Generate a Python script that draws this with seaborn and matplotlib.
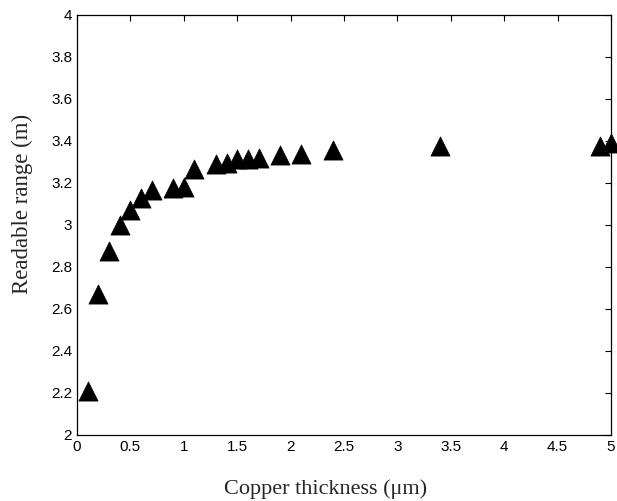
import matplotlib
matplotlib.use("Agg")
import matplotlib.pyplot as plt
import seaborn as sns
import pandas as pd

thickness = [0.1, 0.2, 0.3, 0.4, 0.5, 0.6, 0.7, 0.9, 1.0, 1.1, 1.3, 1.4,
             1.5, 1.6, 1.7, 1.9, 2.1, 2.4, 3.4, 4.9, 5.0]
readable_range = [2.21, 2.67, 2.875, 3.0, 3.07, 3.13, 3.165, 3.175, 3.18,
                  3.265, 3.29, 3.295, 3.315, 3.315, 3.32, 3.332, 3.337,
                  3.357, 3.378, 3.376, 3.389]
x_ticks = [0, 0.5, 1, 1.5, 2, 2.5, 3, 3.5, 4, 4.5, 5]
x_tick_labels = ["0", "0.5", "1", "1.5", "2", "2.5", "3", "3.5", "4", "4.5", "5"]
y_ticks = [2, 2.2, 2.4, 2.6, 2.8, 3, 3.2, 3.4, 3.6, 3.8, 4]
y_tick_labels = ["2", "2.2", "2.4", "2.6", "2.8", "3", "3.2", "3.4", "3.6", "3.8", "4"]

df = pd.DataFrame({"thickness": thickness, "range": readable_range})

sns.set_style("white")
plt.rcParams["font.family"] = ["Liberation Sans", "DejaVu Sans"]

fig = plt.figure(figsize=(6.17, 5.01), dpi=100)
ax = fig.add_axes([77 / 617, 1 - 435 / 501, (611 - 77) / 617, (435 - 15) / 501])

sns.scatterplot(data=df, x="thickness", y="range", marker="^", s=190,
                color="black", edgecolor="black", linewidth=0.5, ax=ax,
                legend=False, clip_on=False, zorder=3)

ax.set_xlim(0, 5)
ax.set_ylim(2, 4)
ax.set_xticks(x_ticks)
ax.set_xticklabels(x_tick_labels)
ax.set_yticks(y_ticks)
ax.set_yticklabels(y_tick_labels)
ax.tick_params(direction="in", length=4, width=0.8, top=True, right=True,
               labelsize=11, pad=3.5, colors="black")
for sp in ax.spines.values():
    sp.set_visible(True)
    sp.set_color("black")
    sp.set_linewidth(0.9)

serif = ["Liberation Serif", "DejaVu Serif"]
ax.set_xlabel("Copper thickness (\u03bcm)", family=serif, fontsize=16)
ax.set_ylabel("Readable range (m)", family=serif, fontsize=16.5)
ax.xaxis.set_label_coords(0.465, -0.105)
ax.yaxis.set_label_coords(-0.082, 0.55)

fig.savefig("out.png", dpi=100)
